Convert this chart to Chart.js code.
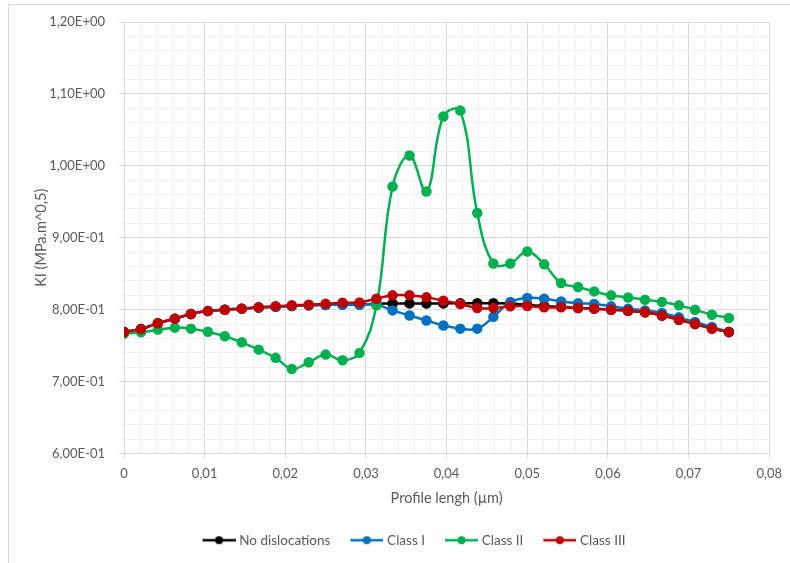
<!DOCTYPE html>
<html>
<head>
<meta charset="utf-8">
<title>KI profile</title>
<script src="https://cdn.jsdelivr.net/npm/chart.js@4.4.1/dist/chart.umd.min.js"></script>
<style>
    html, body { margin: 0; padding: 0; background: #fff; overflow: hidden; }
    #wrap { position: relative; width: 790px; height: 563px; }
</style>
</head>
<body>
<div id="wrap"><canvas id="chart1" width="790" height="563"></canvas></div>
<script>
    // profile positions (µm)
    var xValues = [0, 0.0021, 0.0042, 0.0063, 0.0083, 0.0104, 0.0125, 0.0146, 0.0167, 0.0188,
        0.0208, 0.0229, 0.025, 0.0271, 0.0292, 0.0313, 0.0333, 0.0354, 0.0375, 0.0396,
        0.0417, 0.0438, 0.0458, 0.0479, 0.05, 0.0521, 0.0542, 0.0563, 0.0583, 0.0604,
        0.0625, 0.0646, 0.0667, 0.0688, 0.0708, 0.0729, 0.075];

    var noDislocations = [0.769, 0.773, 0.781, 0.7875, 0.794, 0.798, 0.800, 0.8014, 0.803, 0.804,
        0.805, 0.806, 0.8065, 0.807, 0.807, 0.8083, 0.8085, 0.8087, 0.8085, 0.8087,
        0.8088, 0.809, 0.809, 0.8085, 0.8065, 0.805, 0.804, 0.8023, 0.8014, 0.800,
        0.7986, 0.7963, 0.792, 0.786, 0.780, 0.7736, 0.769];

    var classI = [0.769, 0.773, 0.781, 0.7875, 0.794, 0.798, 0.800, 0.8014, 0.803, 0.804,
        0.805, 0.806, 0.8065, 0.807, 0.807, 0.807, 0.799, 0.792, 0.785, 0.778,
        0.7736, 0.7736, 0.790, 0.8107, 0.8163, 0.8153, 0.8115, 0.809, 0.808, 0.8046,
        0.8014, 0.799, 0.7954, 0.7893, 0.783, 0.776, 0.769];

    var classII = [0.7667, 0.7685, 0.7722, 0.775, 0.7736, 0.7694, 0.763, 0.7546, 0.7444, 0.733,
        0.7176, 0.7268, 0.7375, 0.7296, 0.7399, 0.806, 0.9713, 1.0143, 0.9643, 1.0685,
        1.0768, 0.9343, 0.8643, 0.8643, 0.881, 0.863, 0.837, 0.8315, 0.8254, 0.8199,
        0.817, 0.8139, 0.8107, 0.806, 0.800, 0.793, 0.7885];

    var classIII = [0.769, 0.773, 0.781, 0.7875, 0.794, 0.798, 0.800, 0.8014, 0.8032, 0.8046,
        0.806, 0.807, 0.8083, 0.8095, 0.810, 0.8153, 0.8199, 0.820, 0.8171, 0.8125,
        0.808, 0.8023, 0.8023, 0.8046, 0.805, 0.8032, 0.8032, 0.8023, 0.8014, 0.800,
        0.7986, 0.7963, 0.792, 0.786, 0.780, 0.7736, 0.769];

    var seriesNames = ['No dislocations', 'Class I', 'Class II', 'Class III'];
    var seriesData = [noDislocations, classI, classII, classIII];
    var colors = ['#000000', '#0070c0', '#00b050', '#c00000'];

    var textColor = '#595959';
    var font = 'Lato, "Open Sans", sans-serif';

    function points(ys) {
        var out = [];
        for (var i = 0; i < xValues.length; i++) {
            out.push({x: xValues[i], y: ys[i]});
        }
        return out;
    }

    // legend marker: short line with a dot, shifted right inside a wider image
    // so it sits close to its label (like the Excel legend)
    function marker(color) {
        var c = document.createElement('canvas');
        c.width = 46;
        c.height = 10;
        var g = c.getContext('2d');
        g.strokeStyle = color;
        g.lineWidth = 2.5;
        g.beginPath();
        g.moveTo(13, 5);
        g.lineTo(46, 5);
        g.stroke();
        g.fillStyle = color;
        g.beginPath();
        g.arc(29.5, 5, 4, 0, Math.PI * 2);
        g.fill();
        return c;
    }

    function isMajor(v, step) {
        var r = v / step;
        return Math.abs(r - Math.round(r)) < 1e-6;
    }

    function sci(v) {
        var e = Math.floor(Math.log10(v) + 1e-9);
        var m = v / Math.pow(10, e);
        return m.toFixed(2).replace('.', ',') + 'E' + (e < 0 ? '-' : '+') + String(Math.abs(e)).padStart(2, '0');
    }

    var datasets = [];
    for (var k = 0; k < seriesNames.length; k++) {
        datasets.push({
            label: seriesNames[k],
            data: points(seriesData[k]),
            borderColor: colors[k],
            backgroundColor: colors[k],
            pointBackgroundColor: colors[k],
            pointBorderColor: colors[k],
            pointStyle: 'circle',
            pointRadius: 4,
            borderWidth: 2.5,
            tension: 0.4,
            fill: false,
            order: seriesNames.length - k
        });
    }

    var frame = {
        id: 'frame',
        beforeDraw: function (chart) {
            var ctx = chart.ctx;
            ctx.save();
            ctx.strokeStyle = '#d9d9d9';
            ctx.lineWidth = 1;
            ctx.strokeRect(8.5, 4.5, 1000, 1000);
            ctx.restore();
        }
    };

    var legendMarkers = colors.map(marker);

    new Chart(document.getElementById('chart1').getContext('2d'), {
        type: 'line',
        data: {datasets: datasets},
        plugins: [frame],
        options: {
            responsive: false,
            animation: false,
            layout: {padding: {left: 47, top: 22, right: 19, bottom: 6}},
            plugins: {
                tooltip: {enabled: false},
                legend: {
                    position: 'bottom',
                    labels: {
                        usePointStyle: true,
                        pointStyleWidth: 40,
                        padding: 10,
                        color: textColor,
                        font: {family: font, size: 13.5},
                        generateLabels: function (chart) {
                            return chart.data.datasets.map(function (ds, i) {
                                return {
                                    text: ds.label,
                                    pointStyle: legendMarkers[i],
                                    fillStyle: colors[i],
                                    strokeStyle: colors[i],
                                    lineWidth: 0,
                                    fontColor: textColor,
                                    hidden: false,
                                    datasetIndex: i
                                };
                            });
                        }
                    }
                }
            },
            scales: {
                x: {
                    type: 'linear',
                    min: 0,
                    max: 0.08,
                    afterFit: function (scale) { scale.height = 70; },
                    ticks: {
                        stepSize: 0.002,
                        autoSkip: false,
                        maxRotation: 0,
                        minRotation: 0,
                        padding: 8,
                        color: textColor,
                        font: {family: font, size: 13},
                        callback: function (v) {
                            if (!isMajor(v, 0.01)) return '';
                            return v === 0 ? '0' : v.toFixed(2).replace('.', ',');
                        }
                    },
                    grid: {
                        color: function (c) { return isMajor(c.tick.value, 0.01) ? '#d9d9d9' : '#efefef'; },
                        tickColor: function (c) { return isMajor(c.tick.value, 0.01) ? '#d9d9d9' : 'rgba(0,0,0,0)'; },
                        tickLength: 5
                    },
                    border: {color: '#d9d9d9'},
                    title: {
                        display: true,
                        text: 'Profile lengh (µm)',
                        color: textColor,
                        font: {family: font, size: 14.5},
                        padding: {top: 0, bottom: 16}
                    }
                },
                y: {
                    min: 0.6,
                    max: 1.2,
                    afterFit: function (scale) { scale.width = 77; },
                    ticks: {
                        stepSize: 0.02,
                        autoSkip: false,
                        padding: 14,
                        color: textColor,
                        font: {family: font, size: 13},
                        callback: function (v) {
                            return isMajor(v, 0.1) ? sci(v) : '';
                        }
                    },
                    grid: {
                        color: function (c) { return isMajor(c.tick.value, 0.1) ? '#d9d9d9' : '#efefef'; },
                        tickColor: function (c) { return isMajor(c.tick.value, 0.1) ? '#d9d9d9' : 'rgba(0,0,0,0)'; },
                        tickLength: 5
                    },
                    border: {color: '#d9d9d9'},
                    title: {
                        display: true,
                        text: 'KI (MPa.m^0,5)',
                        color: textColor,
                        font: {family: font, size: 14.5},
                        padding: {top: -14, bottom: 0}
                    }
                }
            }
        }
    });
</script>
</body>
</html>
